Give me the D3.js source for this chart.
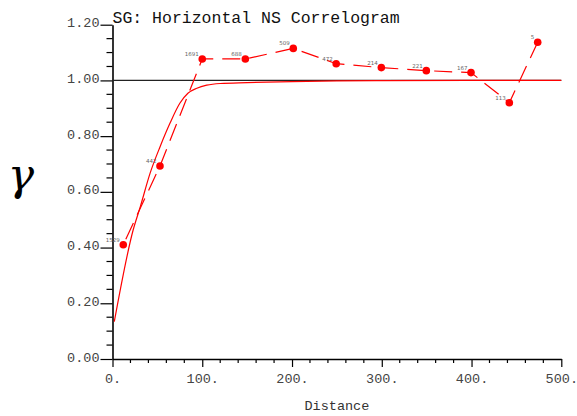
<!DOCTYPE html>
<html><head><meta charset="utf-8">
<script src="https://cdn.jsdelivr.net/npm/d3@7"></script>
<style>body{margin:0;background:#fff}svg{display:block}</style>
</head><body>
<svg id="c" width="577" height="416"></svg>
<script>
const title = "SG: Horizontal NS Correlogram";
const xLabel = "Distance";
const yLabel = "γ";
const lagDist = [12.0, 52.9, 100.0, 148.0, 201.4, 249.2, 299.5, 349.6, 399.4, 442.1, 473.7];
const gammaVal = [0.410, 0.693, 1.077, 1.077, 1.115, 1.060, 1.046, 1.035, 1.028, 0.920, 1.137];
const pairCount = ["1529", "442", "1691", "688", "509", "472", "214", "221", "167", "113", "5"];
const modelDist = [2, 23, 31, 42, 53, 64, 75, 84, 94, 105, 120, 150, 200, 250, 300, 400, 500];
const modelVal = [0.134, 0.463, 0.547, 0.668, 0.762, 0.846, 0.918, 0.954, 0.972, 0.983, 0.989, 0.992, 0.996, 0.998, 0.999, 1.0, 1.0];
const xTicks = [0, 100, 200, 300, 400, 500];
const xTickLabels = ["0.", "100.", "200.", "300.", "400.", "500."];
const yTicks = [0, 0.2, 0.4, 0.6, 0.8, 1.0, 1.2];
const yTickLabels = ["0.00", "0.20", "0.40", "0.60", "0.80", "1.00", "1.20"];
const sill = 1.0;

const svg = d3.select("#c");
const x = d3.scaleLinear().domain([0, 500]).range([112.5, 561.3]);
const y = d3.scaleLinear().domain([0, 1.2]).range([359, 24.7]);
const mono = "'Liberation Mono', 'DejaVu Sans Mono', monospace";

// minor ticks
const xMinor = d3.range(0, 501, 20).filter(v => v % 100 !== 0);
const yMinor = d3.range(0, 1.2001, 0.05).filter(v => Math.abs(v*5 - Math.round(v*5)) > 1e-6);

const xAxis = svg.append("g").attr("transform", `translate(0,${y(0)})`)
  .call(d3.axisBottom(x).tickValues(xTicks).tickFormat((d,i)=>xTickLabels[i]).tickSize(8).tickPadding(7).tickSizeOuter(0));
const yAxis = svg.append("g").attr("transform", `translate(${x(0)},0)`)
  .call(d3.axisLeft(y).tickValues(yTicks).tickFormat((d,i)=>yTickLabels[i]).tickSize(12).tickPadding(1).tickSizeOuter(0));
[xAxis, yAxis].forEach(g => {
  g.select(".domain").attr("stroke", "#000").attr("stroke-width", 1.6);
  g.selectAll(".tick line").attr("stroke", "#000").attr("stroke-width", 1.2);
  g.selectAll("text").attr("font-family", mono).attr("font-size", "13.5px").attr("fill", "#444");
});
yAxis.selectAll("text").attr("dy", "0.15em");
xAxis.selectAll("text").attr("dy", "0.7em");

svg.append("g").selectAll("line").data(xMinor).join("line")
  .attr("x1", d=>x(d)).attr("x2", d=>x(d)).attr("y1", y(0)).attr("y2", y(0)+4)
  .attr("stroke", "#000").attr("stroke-width", 1.2);
svg.append("g").selectAll("line").data(yMinor).join("line")
  .attr("y1", d=>y(d)).attr("y2", d=>y(d)).attr("x1", x(0)).attr("x2", x(0)-6)
  .attr("stroke", "#000").attr("stroke-width", 1.2);

// sill line
svg.append("line").attr("x1", x(0)).attr("x2", x(500)).attr("y1", y(sill)).attr("y2", y(sill))
  .attr("stroke", "#222").attr("stroke-width", 1.2);

// model curve
const model = modelDist.map((d,i)=>[d, modelVal[i]]);
svg.append("path").datum(model)
  .attr("d", d3.line().x(d=>x(d[0])).y(d=>y(d[1])).curve(d3.curveMonotoneX))
  .attr("fill", "none").attr("stroke", "#ff0000").attr("stroke-width", 1.2);

// experimental
const pts = lagDist.map((d,i)=>({x:d, g:gammaVal[i], n:pairCount[i]}));
svg.append("path").datum(pts)
  .attr("d", d3.line().x(d=>x(d.x)).y(d=>y(d.g)))
  .attr("fill", "none").attr("stroke", "#ff0000").attr("stroke-width", 1.2)
  .attr("stroke-dasharray", "18,9").attr("stroke-dashoffset", -6);
svg.append("g").selectAll("circle").data(pts).join("circle")
  .attr("cx", d=>x(d.x)).attr("cy", d=>y(d.g)).attr("r", 3.8).attr("fill", "#ff0000");
svg.append("g").selectAll("text").data(pts).join("text")
  .attr("x", d=>x(d.x)-3.5).attr("y", d=>y(d.g)-3).attr("text-anchor", "end")
  .attr("font-family", "'DejaVu Sans', sans-serif").attr("font-size", "5.5px").attr("fill", "#666")
  .text(d=>d.n);

// title and labels
svg.append("text").attr("x", 112.5).attr("y", 23).attr("font-family", mono).attr("font-size", "16.5px")
  .attr("fill", "#111").text(title);
svg.append("text").attr("x", x(250)).attr("y", 410).attr("text-anchor", "middle").attr("font-family", mono)
  .attr("font-size", "13.5px").attr("fill", "#333").text(xLabel);
svg.append("text").attr("x", 21).attr("y", 190).attr("text-anchor", "middle").attr("font-family", "'DejaVu Serif', serif")
  .attr("font-style", "italic").attr("font-size", "44px").attr("fill", "#000").text(yLabel);
</script>
</body></html>
